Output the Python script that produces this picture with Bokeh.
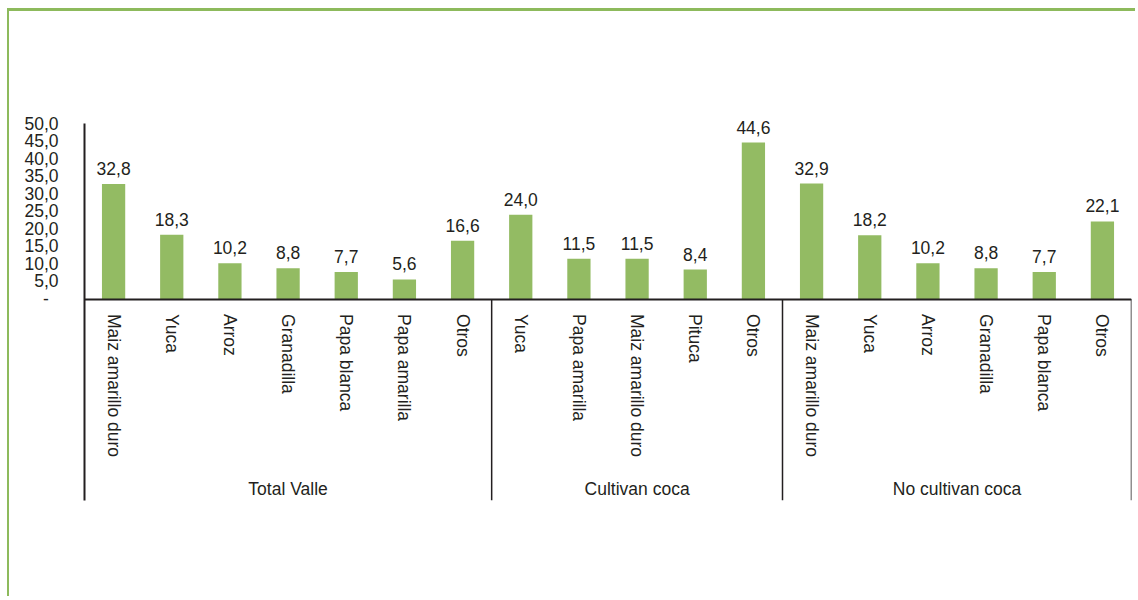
from bokeh.plotting import figure
from bokeh.models import FactorRange, ColumnDataSource, CategoricalAxis, LinearAxis, FixedTicker, Range1d
from bokeh.core.properties import value
from bokeh.embed import file_html
from bokeh.resources import INLINE

# ---- data ----
groups = ["Total Valle", "Cultivan coca", "No cultivan coca"]
crops_total = ["Maiz amarillo duro", "Yuca", "Arroz", "Granadilla", "Papa blanca", "Papa amarilla", "Otros"]
values_total = [32.8, 18.3, 10.2, 8.8, 7.7, 5.6, 16.6]
crops_coca = ["Yuca", "Papa amarilla", "Maiz amarillo duro", "Pituca", "Otros"]
values_coca = [24.0, 11.5, 11.5, 8.4, 44.6]
crops_nococa = ["Maiz amarillo duro", "Yuca", "Arroz", "Granadilla", "Papa blanca", "Otros"]
values_nococa = [32.9, 18.2, 10.2, 8.8, 7.7, 22.1]
y_ticks = [0, 5, 10, 15, 20, 25, 30, 35, 40, 45, 50]
y_tick_labels = ["-\u00a0\u00a0", "5,0", "10,0", "15,0", "20,0", "25,0", "30,0", "35,0", "40,0", "45,0", "50,0"]

FONT = "Liberation Sans"
FS = "17.5px"
BAR = "#93BB63"
FRAME = "#8DBA5C"
INK = "#231F20"

crop_lists = [crops_total, crops_coca, crops_nococa]
value_lists = [values_total, values_coca, values_nococa]

factors, tops = [], []
for g, cl, vl in zip(groups, crop_lists, value_lists):
    for c, v in zip(cl, vl):
        factors.append((g, c))
        tops.append(v)
labels = [f"{v:.1f}".replace(".", ",") for v in tops]
src = ColumnDataSource(dict(x=factors, top=tops, label=labels))

x_range = FactorRange(*factors, factor_padding=0, group_padding=0, range_padding=0)
y_range = Range1d(-57.4, 56)

p = figure(x_range=x_range, y_range=y_range, width=1128, height=588,
           output_backend="svg", toolbar_location=None,
           x_axis_location=None, y_axis_location=None,
           min_border_left=75, min_border_top=91, min_border_bottom=99, min_border_right=6)
p.styles = {"margin-left": "7px", "margin-top": "8px",
            "border-top": f"3px solid {FRAME}", "border-left": f"2px solid {FRAME}"}
p.grid.visible = False
p.outline_line_color = None

p.vbar(x="x", top="top", width=0.4, source=src, fill_color=BAR, line_color=None)
p.text(x="x", y="top", text="label", source=src, text_align="center", text_baseline="bottom",
       y_offset=-9, text_font=value(FONT), text_font_size=FS, text_color=INK)

# y axis (line drawn only from the frame bottom up to the top tick)
yax = LinearAxis(ticker=FixedTicker(ticks=y_ticks),
                 major_label_overrides=dict(zip(y_ticks, y_tick_labels)),
                 bounds=(y_range.start, max(y_ticks)))
yax.major_tick_out = 0
yax.major_tick_in = 0
yax.minor_tick_out = 0
yax.minor_tick_in = 0
yax.major_label_standoff = 26
yax.axis_line_color = INK
yax.axis_line_width = 2
yax.major_label_text_font = FONT
yax.major_label_text_font_size = FS
yax.major_label_text_color = INK
p.add_layout(yax, "left")

# x axis at y = 0
xax = CategoricalAxis(fixed_location=0)
xax.major_tick_out = 0
xax.major_tick_in = 0
xax.axis_line_color = INK
xax.axis_line_width = 2
xax.major_label_orientation = "vertical"
xax.major_label_standoff = 15
xax.major_label_text_font = FONT
xax.major_label_text_font_size = FS
xax.major_label_text_color = INK
xax.group_text_color = None
xax.separator_line_color = None
p.add_layout(xax, "below")

# group separators and right end line
sep_x = [(g, cl[-1], 0.5) for g, cl in zip(groups, crop_lists)]
sep_src = ColumnDataSource(dict(x=sep_x, y0=[0] * len(sep_x), y1=[y_range.start] * len(sep_x)))
p.segment(x0="x", x1="x", y0="y0", y1="y1", source=sep_src, line_color=INK, line_width=1.5)

# group labels
gsrc = ColumnDataSource(dict(x=groups, y=[y_range.start] * len(groups)))
p.text(x="x", y="y", text="x", source=gsrc, text_align="center", text_baseline="middle",
       y_offset=-12, text_font=value(FONT), text_font_size=FS, text_color=INK)

open("out.html", "w").write(file_html(p, INLINE))
